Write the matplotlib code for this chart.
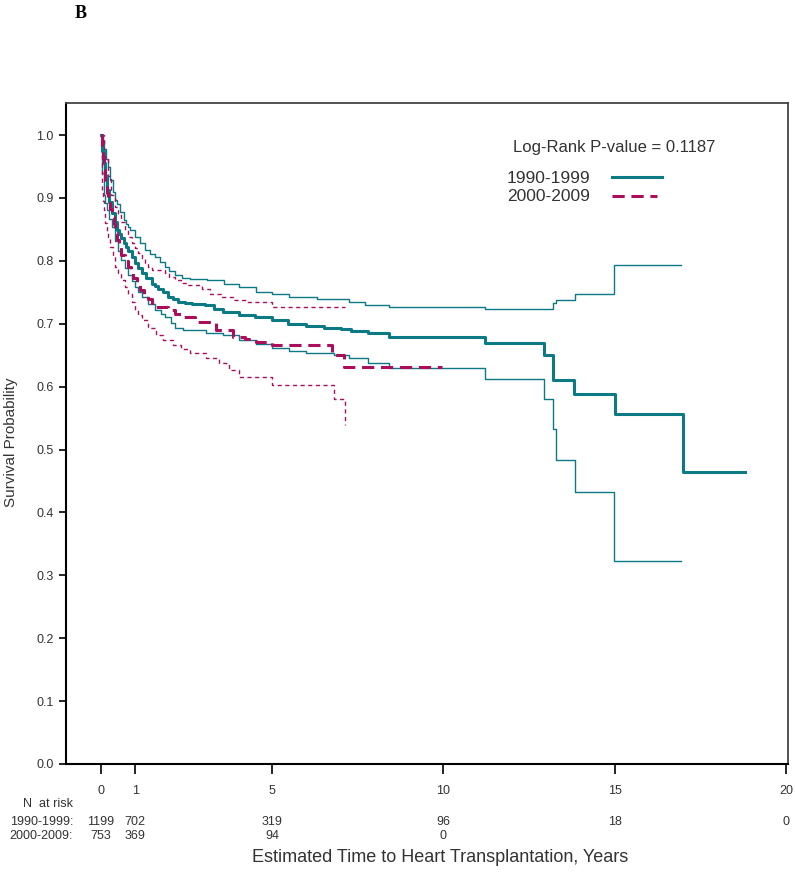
import matplotlib
matplotlib.use("Agg")
import matplotlib.pyplot as plt
from matplotlib.transforms import blended_transform_factory
from matplotlib import font_manager

# ---------------- data ----------------
km90_t = [0, 0.03, 0.08, 0.13, 0.18, 0.25, 0.32, 0.41, 0.47, 0.54, 0.6, 0.66, 0.73, 0.8, 0.9,
          0.99, 1.09, 1.19, 1.33, 1.48, 1.58, 1.67, 1.8, 1.96, 2.1, 2.26, 2.45, 2.65, 3.04,
          3.3, 3.56, 4.04, 4.5, 5.0, 5.45, 6.0, 6.5, 7.0, 7.3, 7.8,
          8.4, 11.2, 12.94, 13.2, 13.8, 15.0, 17.0, 18.8]
km90_s = [1.0, 0.975, 0.955, 0.935, 0.913, 0.894, 0.876, 0.862, 0.849, 0.843, 0.836, 0.828,
          0.822, 0.815, 0.806, 0.796, 0.788, 0.780, 0.772, 0.764, 0.760, 0.756, 0.750, 0.743,
          0.739, 0.735, 0.733, 0.732, 0.730, 0.724, 0.719, 0.714, 0.710,
          0.706, 0.700, 0.696, 0.694, 0.692, 0.689, 0.685, 0.679, 0.669, 0.651, 0.610, 0.589,
          0.557, 0.465, 0.465]

uci90_t = [0, 0.05, 0.1, 0.15, 0.2, 0.27, 0.34, 0.41, 0.47, 0.56, 0.66, 0.73, 0.8, 0.86, 0.99,
           1.15, 1.28, 1.43, 1.58, 1.72, 1.87, 2.0, 2.16, 2.36, 2.6, 3.1, 3.6, 4.04, 4.53, 5.0,
           5.49, 6.3, 7.24, 7.7, 8.4, 11.2, 13.2, 13.3, 13.83, 14.97, 16.95]
uci90_s = [1.0, 0.99, 0.978, 0.962, 0.95, 0.928, 0.91, 0.896, 0.89, 0.877, 0.865, 0.859, 0.854,
           0.849, 0.838, 0.828, 0.817, 0.811, 0.806, 0.798, 0.791, 0.784, 0.777, 0.772, 0.771,
           0.769, 0.764, 0.759, 0.751, 0.748, 0.743, 0.740, 0.735, 0.730, 0.727, 0.724, 0.733,
           0.738, 0.748, 0.793, 0.793]

lci90_t = [0, 0.04, 0.08, 0.13, 0.18, 0.25, 0.32, 0.42, 0.5, 0.6, 0.7, 0.8, 0.9, 0.99, 1.09,
           1.19, 1.38, 1.58, 1.75, 1.87, 2.06, 2.16, 2.4, 3.07, 3.56, 4.04, 4.53, 5.0, 5.49,
           5.98, 6.8, 7.24, 7.8, 8.4, 11.2, 12.93, 13.2, 13.3, 13.83, 14.97, 16.95]
lci90_s = [0.985, 0.94, 0.905, 0.892, 0.881, 0.867, 0.854, 0.831, 0.815, 0.801, 0.789, 0.777,
           0.768, 0.759, 0.751, 0.743, 0.732, 0.722, 0.716, 0.711, 0.701, 0.693, 0.690, 0.686,
           0.682, 0.674, 0.668, 0.661, 0.657, 0.653, 0.651, 0.645, 0.638, 0.629, 0.612, 0.580,
           0.532, 0.483, 0.432, 0.323, 0.323]

km00_t = [0, 0.03, 0.06, 0.08, 0.13, 0.18, 0.22, 0.27, 0.32, 0.37, 0.42, 0.47, 0.53, 0.6, 0.7,
          0.8, 0.87, 0.94, 1.04, 1.14, 1.26, 1.38, 1.48, 1.58, 1.96, 2.15, 2.36, 2.74, 3.07,
          3.36, 3.85, 4.2, 4.53, 5.0, 6.75, 7.1, 9.95]
km00_s = [1.0, 0.98, 0.965, 0.955, 0.923, 0.908, 0.897, 0.883, 0.870, 0.858, 0.845, 0.833,
          0.822, 0.809, 0.800, 0.791, 0.781, 0.772, 0.763, 0.754, 0.747, 0.740, 0.733, 0.727,
          0.722, 0.716, 0.711, 0.703, 0.702, 0.690, 0.679, 0.675, 0.671, 0.666, 0.650, 0.632,
          0.632]

uci00_t = [0, 0.1, 0.2, 0.3, 0.41, 0.5, 0.6, 0.7, 0.8, 0.9, 1.0, 1.09, 1.19, 1.28, 1.38, 1.48,
           1.87, 2.0, 2.16, 2.35, 2.55, 2.94, 3.17, 3.5, 3.85, 4.24, 5.0, 7.14]
uci00_s = [1.0, 0.965, 0.935, 0.905, 0.886, 0.873, 0.861, 0.849, 0.838, 0.828, 0.820, 0.812,
           0.804, 0.796, 0.790, 0.785, 0.780, 0.774, 0.769, 0.765, 0.762, 0.756, 0.748, 0.743,
           0.738, 0.734, 0.727, 0.727]

lci00_t = [0, 0.02, 0.03, 0.06, 0.08, 0.13, 0.18, 0.22, 0.27, 0.34, 0.41, 0.5, 0.6, 0.7, 0.8,
           0.9, 0.99, 1.09, 1.19, 1.38, 1.6, 1.81, 2.1, 2.35, 2.59, 3.07, 3.46, 3.75, 4.04,
           5.0, 6.8, 7.14]
lci00_s = [0.99, 0.94, 0.913, 0.895, 0.881, 0.860, 0.848, 0.838, 0.822, 0.806, 0.791, 0.780,
           0.769, 0.758, 0.748, 0.735, 0.722, 0.714, 0.706, 0.693, 0.682, 0.674, 0.666, 0.660,
           0.653, 0.645, 0.637, 0.626, 0.616, 0.603, 0.580, 0.539]

x_ticks = [0, 1, 5, 10, 15, 20]
y_ticks = [0.0, 0.1, 0.2, 0.3, 0.4, 0.5, 0.6, 0.7, 0.8, 0.9, 1.0]
risk_labels = ["1990-1999:", "2000-2009:"]
risk_90_t = [0, 1, 5, 10, 15, 20]
risk_90_n = [1199, 702, 319, 96, 18, 0]
risk_00_t = [0, 1, 5, 10]
risk_00_n = [753, 369, 94, 0]
group_labels = ["1990-1999", "2000-2009"]
pvalue_text = "Log-Rank P-value = 0.1187"

# ---------------- style ----------------
plt.rcParams["font.family"] = ["Liberation Sans", "DejaVu Sans"]

teal = "#0b7a84"
crim = "#ab0f5c"
txtc = "#333333"

fig = plt.figure(figsize=(7.95, 8.76), dpi=100)
ax = fig.add_axes([66 / 795, 1 - 764 / 876, (788 - 66) / 795, (764 - 103) / 876])

ax.plot(uci90_t, uci90_s, drawstyle="steps-post", color=teal, lw=1.0)
ax.plot(lci90_t, lci90_s, drawstyle="steps-post", color=teal, lw=1.0)
ax.plot(uci00_t, uci00_s, drawstyle="steps-post", color=crim, lw=1.0, dashes=(3, 2.5))
ax.plot(lci00_t, lci00_s, drawstyle="steps-post", color=crim, lw=1.0, dashes=(3, 2.5))
ax.plot(km90_t, km90_s, drawstyle="steps-post", color=teal, lw=2.2)
ax.plot(km00_t, km00_s, drawstyle="steps-post", color=crim, lw=2.2, dashes=(4, 2.2))

ax.set_xlim(-1.02, 20.06)
ax.set_ylim(0, 1.051)
ax.set_yticks(y_ticks)
ax.set_yticklabels([f"{v:.1f}" for v in y_ticks])
ax.set_xticks(x_ticks)
ax.set_xticklabels([str(v) for v in x_ticks])
ax.tick_params(axis="y", direction="out", length=5, width=1.2, labelsize=9, colors="black",
               labelcolor=txtc, pad=4)
ax.tick_params(axis="x", direction="out", length=7, width=1.2, labelsize=9, colors="black",
               labelcolor=txtc, pad=8)
for s in ["left", "bottom"]:
    ax.spines[s].set_linewidth(1.5)
    ax.spines[s].set_color("black")
for s in ["top", "right"]:
    ax.spines[s].set_linewidth(1.3)
    ax.spines[s].set_color("#444444")

fig.text(11 / 795, 1 - 442 / 876, "Survival Probability", rotation=90, ha="center",
         va="center", fontsize=11, color=txtc)
fig.text(440 / 795, 1 - 858 / 876, "Estimated Time to Heart Transplantation, Years",
         ha="center", va="center", fontsize=13, color=txtc)

# legend (drawn manually)
ax.text(0.619, 0.932, pvalue_text, transform=ax.transAxes, fontsize=12, color=txtc,
        ha="left", va="center")
ax.text(0.726, 0.8865, group_labels[0], transform=ax.transAxes, fontsize=12.5, color=txtc,
        ha="right", va="center")
ax.text(0.726, 0.858, group_labels[1], transform=ax.transAxes, fontsize=12.5, color=txtc,
        ha="right", va="center")
ax.plot([0.756, 0.825], [0.888, 0.888], transform=ax.transAxes, color=teal, lw=2.2)
ax.plot([0.756, 0.819], [0.859, 0.859], transform=ax.transAxes, color=crim, lw=2.2,
        dashes=(4, 2.2))

# number at risk table
tr = blended_transform_factory(ax.transData, fig.transFigure)
fig.text(73 / 795, 1 - 804 / 876, "N  at risk", ha="right", va="center", fontsize=9, color=txtc)
fig.text(73 / 795, 1 - 822 / 876, risk_labels[0], ha="right", va="center", fontsize=9, color=txtc)
fig.text(73 / 795, 1 - 836 / 876, risk_labels[1], ha="right", va="center", fontsize=9, color=txtc)
for t, n in zip(risk_90_t, risk_90_n):
    ax.text(t, 1 - 822 / 876, str(n), transform=tr, ha="center", va="center", fontsize=9,
            color=txtc, clip_on=False)
for t, n in zip(risk_00_t, risk_00_n):
    ax.text(t, 1 - 836 / 876, str(n), transform=tr, ha="center", va="center", fontsize=9,
            color=txtc, clip_on=False)

fig.text(75 / 795, 1 - 13 / 876, "B", ha="left", va="center", fontsize=13,
         fontweight="bold", family=["Liberation Serif", "DejaVu Serif"])

fig.savefig("out.png", dpi=100)
